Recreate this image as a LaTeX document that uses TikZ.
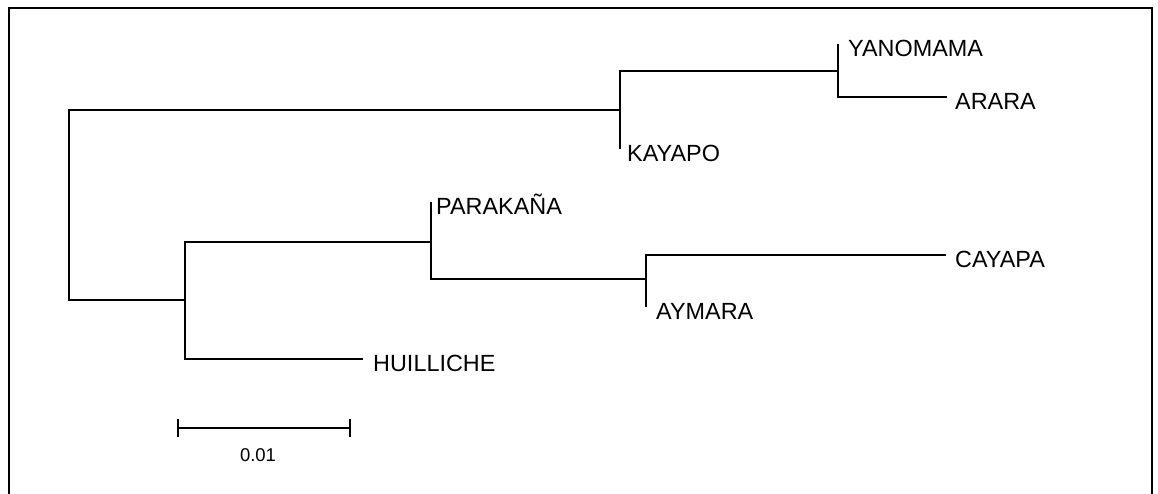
\documentclass[tikz,border=0pt]{standalone}
\usepackage{fontspec}
\setmainfont{Liberation Sans}
\usetikzlibrary{positioning}
\tikzset{
    branch/.style={line width=2pt, black},
    frame/.style={line width=2.6pt, black},
    taxon/.style={inner sep=0pt, text height=16.6pt, text depth=0pt, yshift=-4pt,
        font=\fontsize{23.4}{26}\selectfont},
    scalelabel/.style={inner sep=0pt, font=\fontsize{18.5}{21}\selectfont}
}
\begin{document}
\begin{tikzpicture}[x=1pt, y=-1pt]
    \useasboundingbox (0,0) rectangle (1158,494);
    \clip (0,0) rectangle (1158,494);
    \draw[frame] (9,8) rectangle (1152,530);
    % internal nodes
    \coordinate (root) at (69,205);
    \coordinate (topc) at (620,110);
    \coordinate (yanara) at (838,71);
    \coordinate (botc) at (185,300);
    \coordinate (parc) at (431,242);
    \coordinate (cayaym) at (646,279);
    % tips
    \coordinate (yan) at (838,44);
    \coordinate (ara) at (947,97);
    \coordinate (kay) at (620,149);
    \coordinate (par) at (431,202);
    \coordinate (cay) at (946,255);
    \coordinate (aym) at (646,307);
    \coordinate (hui) at (363,359);
    % branches
    \draw[branch] (root) |- (topc);
    \draw[branch] (root) |- (botc);
    \draw[branch] (topc) |- (yanara);
    \draw[branch] (topc) |- (kay);
    \draw[branch] (yanara) |- (yan);
    \draw[branch] (yanara) |- (ara);
    \draw[branch] (botc) |- (parc);
    \draw[branch] (botc) |- (hui);
    \draw[branch] (parc) |- (par);
    \draw[branch] (parc) |- (cayaym);
    \draw[branch] (cayaym) |- (cay);
    \draw[branch] (cayaym) |- (aym);
    % labels
    \node[taxon, right=10pt of yan] (yanL) {YANOMAMA};
    \node[taxon, right=8pt of ara] (araL) {ARARA};
    \node[taxon, right=7pt of kay] (kayL) {KAYAPO};
    \node[taxon, right=5pt of par] (parL) {PARAKAÑA};
    \node[taxon, right=9pt of cay] (cayL) {CAYAPA};
    \node[taxon, right=10pt of aym] (aymL) {AYMARA};
    \node[taxon, right=10pt of hui] (huiL) {HUILLICHE};
    % scale bar
    \coordinate (sbl) at (178,428);
    \coordinate (sbr) at (350,428);
    \draw[branch] (sbl) -- (sbr);
    \draw[branch] ([yshift=9pt]sbl) -- ([yshift=-9pt]sbl);
    \draw[branch] ([yshift=9pt]sbr) -- ([yshift=-9pt]sbr);
    \node[scalelabel] (sbL) at (258,455) {0.01};
\end{tikzpicture}
\end{document}
